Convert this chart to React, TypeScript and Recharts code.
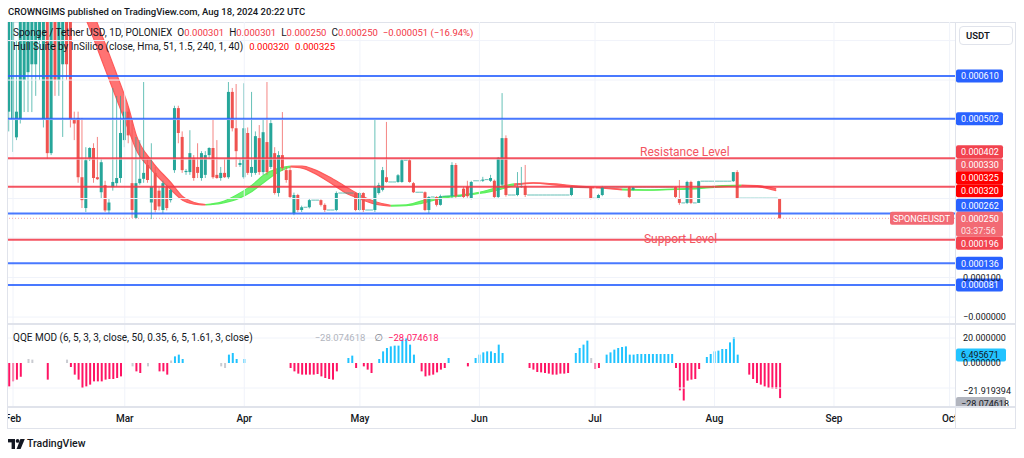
import React from "react";
import { ComposedChart, Bar, Area, XAxis, YAxis, ReferenceLine, Cell } from "recharts";

const FONT = 'Roboto, "Noto Sans", "DejaVu Sans", sans-serif';
const INK = "#131722";
const GRID = "#f0f3fa";
const UP = "#26a69a";
const DOWN = "#ef5350";
const BLUE = "#2962ff";
const RED = "#f23645";
const HULL_UP = "#5cf05c";
const HULL_DOWN = "#ff5a5a";

// prices in millionths of USDT (610 = 0.000610), day 0 = 1 Feb 2024
const FIRST_DAY = -1;
const JAN = [[520, 950, 470, 900]];
const FEB = [
  [499, 950, 418, 880], [455, 700, 448, 520], [499, 980, 490, 900], [600, 1000, 519, 900],
  [620, 950, 519, 880], [640, 950, 519, 900], [640, 900, 560, 860], [700, 950, 600, 900],
  [499, 950, 480, 880], [880, 920, 400, 415], [415, 800, 410, 760], [760, 800, 560, 600],
  [600, 880, 560, 820], [640, 850, 456, 780], [780, 830, 600, 640], [900, 1000, 480, 499],
  [500, 520, 448, 490], [504, 520, 340, 354], [354, 504, 276, 296], [276, 430, 266, 397],
  [403, 430, 395, 428], [428, 440, 340, 352], [354, 456, 347, 349], [316, 400, 300, 392],
  [334, 345, 266, 270], [270, 300, 262, 290], [329, 580, 320, 342], [339, 560, 330, 352],
  [352, 560, 340, 466],
];
const MAR = [
  [448, 549, 430, 520], [520, 530, 440, 460], [339, 499, 251, 271], [251, 456, 248, 339],
  [339, 448, 335, 350], [350, 595, 340, 365], [385, 400, 340, 347], [290, 440, 248, 330],
  [365, 380, 265, 271], [320, 330, 270, 280], [271, 345, 262, 339], [329, 335, 270, 276],
  [296, 325, 290, 322], [372, 535, 365, 529], [529, 535, 440, 466], [456, 470, 365, 372],
  [367, 375, 360, 370], [367, 473, 360, 415], [403, 410, 345, 352], [380, 440, 352, 365],
  [352, 420, 345, 415], [360, 420, 352, 410], [410, 430, 400, 428], [428, 499, 350, 354],
  [360, 448, 350, 352], [352, 380, 345, 365], [365, 400, 352, 354], [354, 595, 350, 570],
  [570, 580, 470, 478], [478, 590, 380, 420], [385, 400, 380, 390],
];
const APR = [
  [354, 592, 350, 478], [466, 480, 360, 365], [365, 570, 355, 380], [365, 470, 360, 458],
  [453, 486, 360, 367], [367, 500, 360, 468], [443, 595, 360, 367], [380, 499, 375, 491],
  [415, 430, 310, 314], [314, 420, 305, 410], [410, 519, 370, 377], [372, 380, 340, 347],
  [372, 380, 300, 304], [263, 315, 258, 309], [309, 312, 266, 271], [271, 282, 266, 278],
  [278, 278, 278, 278], [278, 300, 275, 296], [296, 296, 296, 296], [296, 296, 296, 296],
  [296, 298, 280, 284], [284, 288, 266, 271], [271, 271, 271, 271], [271, 271, 271, 271],
  [271, 318, 268, 314], [314, 314, 314, 314], [314, 314, 314, 314], [314, 314, 314, 314],
  [314, 314, 314, 314], [314, 316, 268, 271],
];
const MAY = [
  [271, 316, 268, 314], [314, 316, 266, 271], [271, 271, 271, 271], [271, 271, 271, 271],
  [271, 499, 266, 329], [314, 340, 310, 334], [322, 380, 318, 372], [354, 494, 340, 342],
  [342, 342, 342, 342], [342, 342, 342, 342], [342, 362, 340, 359], [342, 400, 340, 397],
  [397, 397, 397, 397], [397, 400, 340, 342], [339, 342, 314, 316], [316, 316, 316, 316],
  [316, 316, 316, 316], [316, 318, 268, 271], [271, 306, 262, 304], [304, 304, 304, 304],
  [304, 306, 280, 284], [284, 310, 282, 306], [306, 306, 306, 306], [306, 306, 306, 306],
  [306, 392, 300, 385], [385, 390, 300, 306], [306, 306, 306, 306], [325, 330, 300, 304],
  [330, 345, 302, 306], [301, 345, 298, 342], [345, 345, 345, 345],
];
const JUN = [
  [345, 345, 345, 345], [345, 355, 342, 348], [348, 348, 348, 348], [345, 360, 342, 352],
  [345, 348, 300, 304], [304, 405, 300, 403], [335, 567, 329, 453], [453, 460, 305, 309],
  [309, 309, 309, 309], [309, 309, 309, 309], [309, 367, 306, 329], [329, 380, 327, 332],
  [332, 385, 304, 309], [309, 309, 309, 309], [309, 309, 309, 309], [309, 309, 309, 309],
  [309, 309, 309, 309], [309, 309, 309, 309], [309, 309, 309, 309], [309, 309, 309, 309],
  [309, 309, 309, 309], [309, 309, 309, 309], [309, 309, 309, 309], [309, 309, 309, 309],
  [309, 332, 306, 329], [329, 329, 329, 329], [329, 329, 329, 329], [329, 329, 329, 329],
  [329, 329, 329, 329], [329, 330, 298, 301],
];
const JUL = [
  [301, 301, 301, 301], [301, 312, 298, 309], [309, 332, 306, 329], [329, 329, 329, 329],
  [329, 329, 329, 329], [329, 329, 329, 329], [329, 329, 329, 329], [329, 329, 329, 329],
  [329, 329, 329, 329], [329, 331, 300, 304], [322, 330, 320, 329], [329, 329, 329, 329],
  [329, 329, 329, 329], [329, 329, 329, 329], [329, 329, 329, 329], [329, 329, 329, 329],
  [329, 329, 329, 329], [329, 329, 329, 329], [329, 329, 329, 329], [329, 329, 329, 329],
  [329, 329, 329, 329], [329, 331, 300, 304], [301, 347, 284, 289], [289, 289, 289, 289],
  [289, 345, 286, 342], [342, 345, 286, 289], [289, 289, 289, 289], [289, 345, 289, 344],
  [344, 344, 344, 344], [344, 344, 344, 344], [344, 344, 344, 344],
];
const AUG = [
  [344, 344, 344, 344], [344, 344, 344, 344], [344, 344, 344, 344], [344, 344, 344, 344],
  [344, 344, 344, 344], [344, 367, 342, 367], [367, 372, 299, 301], [301, 301, 301, 301],
  [301, 301, 301, 301], [301, 301, 301, 301], [301, 301, 301, 301], [301, 301, 301, 301],
  [301, 301, 301, 301], [301, 301, 301, 301], [301, 301, 301, 301], [301, 301, 301, 301],
  [301, 301, 301, 301], [301, 301, 250, 250],
];
const CANDLES = [...JAN, ...FEB, ...MAR, ...APR, ...MAY, ...JUN, ...JUL, ...AUG];

const MONTH_DAYS = [0, 29, 60, 90, 121, 151, 182, 213, 243];
const MONTH_LABELS = ["Feb", "Mar", "Apr", "May", "Jun", "Jul", "Aug", "Sep", "Oct"];

// Hull Suite: HMA and its lagged copy
const HULL_DAYS = [16, 19, 23, 27, 30, 32, 36, 41, 44, 47, 50, 54, 58, 62, 65, 69, 72, 75, 78, 82, 86, 90, 94, 98, 102, 106, 111, 116, 121, 126, 130, 135, 141, 146, 152, 158, 165, 172, 178, 183, 189, 194, 198];
const HULL_FAST = [815, 752, 651, 549, 473, 423, 372, 322, 296, 286, 284, 291, 309, 334, 359, 377, 382, 377, 365, 342, 316, 299, 286, 281, 284, 294, 304, 309, 316, 329, 337, 339, 334, 329, 327, 322, 322, 324, 327, 332, 334, 329, 320];
const HULL_SLOW = [880, 815, 715, 612, 530, 460, 395, 340, 305, 290, 285, 288, 298, 318, 340, 368, 380, 382, 374, 355, 332, 309, 292, 283, 282, 288, 300, 307, 313, 322, 333, 340, 337, 332, 328, 324, 321, 323, 325, 329, 333, 332, 325];

const BLUE_LEVELS = [610, 502, 262, 136, 81];
const RED_LEVELS = [402, 330, 196];
const COUNTDOWN = "03:37:56";
const PRICE_TICKS = [100, -0.0001];
const PRICE_GRID = [0, 100, 200, 300, 400, 500, 600, 700];

const QQE_RUNS = [
  { start: -1, tone: "down", values: [-18.7, -14.7, -13.3, -11] },
  { start: 4, tone: "flat", values: [3.2, 2.7] },
  { start: 9, tone: "down", values: [-13.3] },
  { start: 14, tone: "flat", values: [2.7] },
  { start: 15, tone: "down", values: [-3.2, -9.3, -13.3, -20, -18.7, -17.3, -14.7, -14.7, -14.7, -13.3, -12.8, -12.8, -12, -10.7] },
  { start: 31, tone: "flat", values: [-2.7] },
  { start: 32, tone: "down", values: [-6.7, -8] },
  { start: 35, tone: "flat", values: [-2.7] },
  { start: 38, tone: "down", values: [-6.7, -6.7, -9.3] },
  { start: 41, tone: "flat", values: [2] },
  { start: 42, tone: "up", values: [5.3, 6.7, 3.2] },
  { start: 54, tone: "flat", values: [-2.7, -4] },
  { start: 56, tone: "up", values: [6.7, 8, 3.2] },
  { start: 60, tone: "up", values: [3.2] },
  { start: 72, tone: "down", values: [-4, -6.7, -8.5, -9.3, -9.3, -9.3, -9.3, -8.8, -10.7, -12, -12.8, -13.3, -6.7] },
  { start: 87, tone: "up", values: [4, 5.9] },
  { start: 89, tone: "down", values: [-4] },
  { start: 91, tone: "down", values: [-2.7, -5.3, -8] },
  { start: 95, tone: "up", values: [3.2, 9.3, 12, 13.3, 13.9, 13.9, 18.7, 20, 14.7, 6.7] },
  { start: 106, tone: "down", values: [-6.7, -10.7, -10, -9.3, -7.5, -5.3, -4] },
  { start: 113, tone: "up", values: [4] },
  { start: 118, tone: "down", values: [-2.7] },
  { start: 120, tone: "up", values: [4, 6.7, 8.5, 9.3, 9.3, 8, 14.7, 8] },
  { start: 134, tone: "down", values: [-4, -5.3, -7.2, -7.5, -8, -8.5, -9.3, -9.3, -8.5, -8.5, -8] },
  { start: 146, tone: "up", values: [8, 12, 14.7, 17.9] },
  { start: 150, tone: "flat", values: [4] },
  { start: 151, tone: "down", values: [-4.8, -4] },
  { start: 154, tone: "up", values: [6.7, 8.5, 10.7, 12, 12.8, 13.3, 6.7, 6.7, 7.2, 7.2, 7.2, 7.2, 7.2, 7.2, 7.2, 7.2, 7.2, 7.2] },
  { start: 172, tone: "down", values: [-4, -21.9, -30, -14.1, -13.3, -12.8, -4.8] },
  { start: 180, tone: "up", values: [4.8, 7.2, 9.3, 9.9, 11.2, 11.2, 16.5, 20.8, 6.7] },
  { start: 191, tone: "down", values: [-9.3, -12.8, -16, -17.3, -18.7, -20, -20.5, -20.8, -28.074618] },
];
const QQE_TONES: Record<string, string> = { up: "#1fc3ff", down: "#ff1464", flat: "#c9cbd1" };
const QQE_LINE_LAST = 6.495671;
const QQE_LOWER = -21.919394;
const QQE_TICKS = [20, 0, QQE_LOWER];
const QQE_GRID = [20, -20];

// geometry
const W = 1008;
const AXIS_W = 61;
const MAIN_H = 302;
const QQE_H = 82;
const TIME_H = 21;
const X_MIN = -1.3;
const X_MAX = 244.4;
const P_MIN = -17.6;
const P_MAX = 747;
const Q_MIN = -35.2;
const Q_MAX = 30.4;
const ROW = 13;

const minus = (s: string) => s.replace("-", "\u2212");
const fmtPrice = (v: number) => minus((v / 1e6).toFixed(6));
const fmtQqe = (v: number) => minus(v.toFixed(6));

const rows: any[] = CANDLES.map(([o, h, l, c], i) => {
  const flat = h === l;
  return { day: FIRST_DAY + i, o, h, l, c, range: flat ? [l - 0.6, h + 0.6] : [l, h] };
});

const hullSegments: { key: string; color: string }[] = [];
const putHull = (seg: number, i: number) => {
  const row = rows[HULL_DAYS[i] - FIRST_DAY];
  row[`hull${seg}`] = [Math.min(HULL_FAST[i], HULL_SLOW[i]), Math.max(HULL_FAST[i], HULL_SLOW[i])];
};
{
  let seg = -1;
  let prev: boolean | null = null;
  for (let i = 1; i < HULL_DAYS.length; i++) {
    const rising = HULL_FAST[i] > HULL_SLOW[i];
    if (rising !== prev) {
      seg++;
      hullSegments.push({ key: `hull${seg}`, color: rising ? HULL_UP : HULL_DOWN });
      putHull(seg, i - 1);
    }
    putHull(seg, i);
    prev = rising;
  }
}

const qqeByDay = new Map<number, { v: number; tone: string }>();
QQE_RUNS.forEach((r) => r.values.forEach((v, k) => qqeByDay.set(r.start + k, { v, tone: r.tone })));
const qqeRows = rows.map((r) => {
  const q = qqeByDay.get(r.day);
  return { day: r.day, qqe: q ? q.v : null, tone: q ? q.tone : "flat" };
});

const last = CANDLES[CANDLES.length - 1];
const prevClose = CANDLES[CANDLES.length - 2][3];
const change = last[3] - prevClose;
const changePct = (change / prevClose) * 100;

type Tag = {
  value: number;
  bg: string;
  fg?: string;
  sub?: string;
  anchor?: boolean;
  hidden?: boolean;
  line?: string;
  dash?: string;
  lineWidth?: number;
  note?: string;
  noteDay?: number;
  noteDy?: number;
  symbol?: string;
  boxW?: number;
  fmt: (v: number) => string;
};
const tagHeight = (t: Tag) => (t.sub ? ROW * 2 - 1 : ROW);

// push labels away from the anchored last-price label, like the price scale does
function spreadTags(tags: Tag[], pxPerUnit: number) {
  const sorted = [...tags].sort((a, b) => b.value - a.value);
  const ideal = sorted.map((t) => -t.value * pxPerUnit);
  const placed = [...ideal];
  const a = Math.max(0, sorted.findIndex((t) => t.anchor));
  let top = placed[a] - ROW / 2;
  for (let i = a - 1; i >= 0; i--) {
    placed[i] = Math.min(ideal[i], top - tagHeight(sorted[i]) + ROW / 2);
    top = placed[i] - ROW / 2;
  }
  let bottom = placed[a] - ROW / 2 + tagHeight(sorted[a]);
  for (let i = a + 1; i < sorted.length; i++) {
    placed[i] = Math.max(ideal[i], bottom + ROW / 2);
    bottom = placed[i] - ROW / 2 + tagHeight(sorted[i]);
  }
  return sorted.map((t, i) => ({ ...t, dy: placed[i] - ideal[i] }));
}

const priceTags = spreadTags(
  [
    ...BLUE_LEVELS.map((v) => ({ value: v, bg: BLUE, line: BLUE, lineWidth: 2, fmt: fmtPrice })),
    { value: RED_LEVELS[0], bg: "#f2434f", line: RED, lineWidth: 2, note: "Resistance Level", noteDay: 162.7, noteDy: -2, fmt: fmtPrice },
    { value: RED_LEVELS[1], bg: "#f25963", line: RED, lineWidth: 2, fmt: fmtPrice },
    { value: RED_LEVELS[2], bg: "#f2434f", line: RED, lineWidth: 2, note: "Support Level", noteDay: 163.7, noteDy: 3, fmt: fmtPrice },
    { value: HULL_FAST[HULL_FAST.length - 1], bg: "#ff0000", fmt: fmtPrice },
    { value: HULL_SLOW[HULL_SLOW.length - 1], bg: "#ff0000", fmt: fmtPrice },
    { value: last[3], bg: "#f26a74", sub: COUNTDOWN, anchor: true, line: "#f7a3aa", dash: "1 2", lineWidth: 1, symbol: "SPONGEUSDT", fmt: fmtPrice },
  ],
  MAIN_H / (P_MAX - P_MIN)
);

const qqeTags = spreadTags(
  [
    { value: QQE_LINE_LAST, bg: "#22c3ff", fg: INK, boxW: 50, fmt: fmtQqe },
    { value: QQE_LOWER, bg: "none", anchor: true, hidden: true, fmt: fmtQqe },
    { value: QQE_RUNS[QQE_RUNS.length - 1].values.slice(-1)[0], bg: "#b2b5be", fg: INK, boxW: 50, fmt: fmtQqe },
  ],
  QQE_H / (Q_MAX - Q_MIN)
);

const Candle = (props: any) => {
  const { x, y, width, height, payload } = props;
  if (!payload || payload.o == null) return null;
  const { o, h, l, c, range } = payload;
  const top = Math.min(y, y + height);
  const span = Math.abs(height);
  const py = (v: number) => top + ((range[1] - v) / (range[1] - range[0])) * span;
  if (h === l) {
    return <rect x={x - 0.4} y={py(c) - 0.5} width={width + 0.8} height={1} fill={UP} opacity={0.7} />;
  }
  const color = c >= o ? UP : DOWN;
  const bTop = py(Math.max(o, c));
  const bBot = py(Math.min(o, c));
  const cx = x + width / 2;
  return (
    <g>
      <line x1={cx} x2={cx} y1={py(h)} y2={py(l)} stroke={color} strokeOpacity={0.7} strokeWidth={1} />
      <rect x={x} y={bTop} width={width} height={Math.max(1, bBot - bTop)} fill={color} />
    </g>
  );
};

const TagLabel = ({ viewBox, tag }: { viewBox: any; tag: Tag & { dy: number } }) => {
  if (!viewBox || tag.hidden) return null;
  const right = viewBox.x + viewBox.width;
  const cy = viewBox.y + tag.dy;
  const boxW = tag.boxW ?? 47;
  const noteX =
    tag.noteDay != null ? viewBox.x + ((tag.noteDay - X_MIN) * viewBox.width) / (X_MAX - X_MIN) : 0;
  return (
    <g fontFamily={FONT}>
      {tag.note && (
        <text x={noteX} y={viewBox.y + (tag.noteDy ?? 0)} fill="#f2545f" fontSize={12}>
          {tag.note}
        </text>
      )}
      {tag.symbol && (
        <g>
          <rect x={right - 65} y={viewBox.y - ROW / 2} width={64} height={ROW} rx={2} fill={tag.bg} />
          <text x={right - 62} y={viewBox.y + 3.3} fill="#fff" fontSize={9}>
            {tag.symbol}
          </text>
        </g>
      )}
      <rect x={right + 1} y={cy - ROW / 2} width={boxW} height={tagHeight(tag)} rx={2} fill={tag.bg} />
      <text x={right + 6} y={cy + 3.3} fill={tag.fg ?? "#fff"} fontSize={9}>
        {tag.fmt(tag.value)}
      </text>
      {tag.sub && (
        <text x={right + 6} y={cy + 3.3 + 12} fill="rgba(255,255,255,0.85)" fontSize={9}>
          {tag.sub}
        </text>
      )}
    </g>
  );
};

const abs = (s: React.CSSProperties): React.CSSProperties => ({ position: "absolute", ...s });

export default function App() {
  const legendRow: React.CSSProperties = { display: "flex", whiteSpace: "nowrap", fontSize: 10, lineHeight: "13px" };
  const valueText: React.CSSProperties = { fontSize: 9.5 };
  return (
    <div style={abs({ left: 0, top: 0, width: 1024, height: 458, background: "#fff", overflow: "hidden", fontFamily: FONT, color: INK })}>
      <div style={abs({ left: 8, top: 5, fontSize: 9.5, fontWeight: 500, lineHeight: "14px", whiteSpace: "nowrap" })}>
        CROWNGIMS published on TradingView.com, Aug 18, 2024 20:22 UTC
      </div>

      <div style={abs({ left: 7, top: 22, width: 1009, height: 407, border: "1px solid #e0e3eb", boxSizing: "border-box" })} />

      <div style={abs({ left: 8, top: 22 })}>
        <ComposedChart width={W} height={MAIN_H} data={rows} margin={{ top: 0, right: 0, bottom: 0, left: 0 }}>
          <XAxis type="number" dataKey="day" domain={[X_MIN, X_MAX]} allowDataOverflow hide />
          <YAxis
            orientation="right"
            width={AXIS_W}
            domain={[P_MIN, P_MAX]}
            allowDataOverflow
            ticks={PRICE_TICKS}
            interval={0}
            tickLine={false}
            axisLine={false}
            tick={{ fontSize: 9, fill: INK, fontFamily: FONT }}
            tickFormatter={fmtPrice}
          />
          {MONTH_DAYS.map((d) => (
            <ReferenceLine key={`m${d}`} x={d} stroke={GRID} />
          ))}
          {PRICE_GRID.map((v) => (
            <ReferenceLine key={`g${v}`} y={v} stroke={GRID} />
          ))}
          <Bar dataKey="range" barSize={3} shape={Candle} isAnimationActive={false} />
          {hullSegments.map((s) => (
            <Area
              key={s.key}
              dataKey={s.key}
              type="monotone"
              connectNulls
              stroke={s.color}
              strokeWidth={1.2}
              fill={s.color}
              fillOpacity={0.85}
              dot={false}
              activeDot={false}
              isAnimationActive={false}
            />
          ))}
          {priceTags.map((t) => (
            <ReferenceLine
              key={`t${t.value}`}
              y={t.value}
              stroke={t.line ?? "none"}
              strokeWidth={t.lineWidth ?? 1}
              strokeOpacity={t.dash ? 1 : 0.85}
              strokeDasharray={t.dash}
              label={(p: any) => <TagLabel viewBox={p.viewBox} tag={t} />}
            />
          ))}
        </ComposedChart>
      </div>

      <div style={abs({ left: 13, top: 26, ...legendRow })}>
        <span>Sponge / Tether USD, 1D, POLONIEX</span>
        {[["O", last[0]], ["H", last[1]], ["L", last[2]], ["C", last[3]]].map(([k, v]) => (
          <span key={k as string} style={{ marginLeft: 5 }}>
            {k}
            <span style={{ color: RED, ...valueText }}>{fmtPrice(v as number)}</span>
          </span>
        ))}
        <span style={{ marginLeft: 5, color: RED, ...valueText }}>
          {fmtPrice(change)} ({minus(changePct.toFixed(2))}%)
        </span>
      </div>
      <div style={abs({ left: 13, top: 40, ...legendRow })}>
        <span>Hull Suite by InSilico (close, Hma, 51, 1.5, 240, 1, 40)</span>
        <span style={{ marginLeft: 6, color: "#ff0000", ...valueText }}>{fmtPrice(HULL_FAST[HULL_FAST.length - 1])}</span>
        <span style={{ marginLeft: 6, color: "#ff0000", ...valueText }}>{fmtPrice(HULL_SLOW[HULL_SLOW.length - 1])}</span>
      </div>

      <div style={abs({ left: 8, top: 323, width: 1008, height: 2, background: "#e0e3eb" })} />

      <div style={abs({ left: 8, top: 325 })}>
        <ComposedChart width={W} height={QQE_H + TIME_H} data={qqeRows} margin={{ top: 0, right: 0, bottom: 0, left: 0 }}>
          <XAxis
            type="number"
            dataKey="day"
            domain={[X_MIN, X_MAX]}
            allowDataOverflow
            ticks={MONTH_DAYS}
            interval={0}
            height={TIME_H}
            tickLine={false}
            axisLine={false}
            tick={{ fontSize: 10, fill: INK, fontFamily: FONT, fontWeight: 500 }}
            tickFormatter={(d: number) => MONTH_LABELS[MONTH_DAYS.indexOf(d)]}
          />
          <YAxis
            orientation="right"
            width={AXIS_W}
            domain={[Q_MIN, Q_MAX]}
            allowDataOverflow
            ticks={QQE_TICKS}
            interval={0}
            tickLine={false}
            axisLine={false}
            tick={{ fontSize: 9, fill: INK, fontFamily: FONT }}
            tickFormatter={fmtQqe}
          />
          {MONTH_DAYS.map((d) => (
            <ReferenceLine key={`qm${d}`} x={d} stroke={GRID} />
          ))}
          {QQE_GRID.map((v) => (
            <ReferenceLine key={`qg${v}`} y={v} stroke={GRID} />
          ))}
          <Bar dataKey="qqe" barSize={2} isAnimationActive={false}>
            {qqeRows.map((r, i) => (
              <Cell key={i} fill={QQE_TONES[r.tone]} />
            ))}
          </Bar>
          {qqeTags.map((t) => (
            <ReferenceLine
              key={`qt${t.value}`}
              y={t.value}
              stroke="none"
              label={(p: any) => <TagLabel viewBox={p.viewBox} tag={t} />}
            />
          ))}
        </ComposedChart>
      </div>

      <div style={abs({ left: 13, top: 331, ...legendRow })}>
        <span>QQE MOD (6, 5, 3, 3, close, 50, 0.35, 6, 5, 1.61, 3, close)</span>
        <span style={{ marginLeft: 62, color: "#b2b5be", ...valueText }}>{fmtQqe(qqeRows[qqeRows.length - 1].qqe as number)}</span>
        <span style={{ marginLeft: 9, color: "#787b86" }}>∅</span>
        <span style={{ marginLeft: 5, color: "#ff1464", ...valueText }}>{fmtQqe(qqeRows[qqeRows.length - 1].qqe as number)}</span>
      </div>

      <div style={abs({ left: 8, top: 406, width: 1008, height: 2, background: "#e0e3eb" })} />
      <div style={abs({ left: 956, top: 408, width: 59, height: 20, background: "#fff" })} />
      <div style={abs({ left: 955, top: 22, width: 1, height: 407, background: "#e0e3eb" })} />

      <div
        style={abs({
          left: 959,
          top: 26,
          width: 54,
          height: 19,
          border: "1px solid #e0e3eb",
          borderRadius: 4,
          boxSizing: "border-box",
          fontSize: 9.5,
          fontWeight: 600,
          lineHeight: "17px",
          paddingLeft: 6,
          background: "#fff",
        })}
      >
        USDT
      </div>

      <svg style={abs({ left: 8, top: 439 })} width={17} height={10} viewBox="0 0 17 10">
        <rect x={0} y={0} width={7} height={3.4} fill={INK} />
        <rect x={3.6} y={0} width={3.4} height={10} fill={INK} />
        <circle cx={9.6} cy={1.9} r={1.9} fill={INK} />
        <polygon points="12.4,0 16.8,0 12.6,10 8.6,10" fill={INK} />
      </svg>
      <div style={abs({ left: 27, top: 437, fontSize: 10.5, fontWeight: 500, lineHeight: "14px" })}>TradingView</div>
    </div>
  );
}
